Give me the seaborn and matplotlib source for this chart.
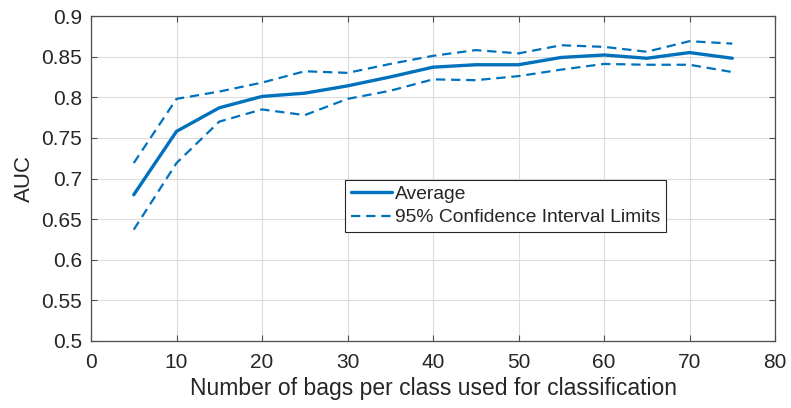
import matplotlib
matplotlib.use("Agg")
import matplotlib.pyplot as plt
import seaborn as sns
import pandas as pd

bags = [5, 10, 15, 20, 25, 30, 35, 40, 45, 50, 55, 60, 65, 70, 75]
avg_auc = [0.680, 0.758, 0.787, 0.801, 0.805, 0.814, 0.825, 0.837, 0.840, 0.840, 0.849, 0.852, 0.848, 0.855, 0.848]
upper_ci = [0.719, 0.798, 0.807, 0.818, 0.832, 0.830, 0.841, 0.851, 0.858, 0.854, 0.864, 0.862, 0.856, 0.869, 0.866]
lower_ci = [0.637, 0.719, 0.770, 0.785, 0.778, 0.798, 0.808, 0.822, 0.821, 0.826, 0.834, 0.841, 0.840, 0.840, 0.831]

x_ticks = [0, 10, 20, 30, 40, 50, 60, 70, 80]
y_ticks = [0.5, 0.55, 0.6, 0.65, 0.7, 0.75, 0.8, 0.85, 0.9]
y_ticklabels = ["0.5", "0.55", "0.6", "0.65", "0.7", "0.75", "0.8", "0.85", "0.9"]

sns.set_theme(style="white")
plt.rcParams["font.family"] = ["Liberation Sans", "DejaVu Sans"]

color = "#0072BD"
text_c = "#262626"

fig = plt.figure(figsize=(7.91, 4.08), dpi=100)
ax = fig.add_axes([91 / 791, 1 - 341 / 408, (775 - 91) / 791, (341 - 16) / 408])

df_avg = pd.DataFrame({"x": bags, "y": avg_auc})
df_up = pd.DataFrame({"x": bags, "y": upper_ci})
df_lo = pd.DataFrame({"x": bags, "y": lower_ci})

dash = (0, (4.2, 2.6))
sns.lineplot(data=df_avg, x="x", y="y", ax=ax, color=color, linewidth=2.4, label="Average")
sns.lineplot(data=df_up, x="x", y="y", ax=ax, color=color, linewidth=1.6, linestyle=dash,
             label="95% Confidence Interval Limits")
sns.lineplot(data=df_lo, x="x", y="y", ax=ax, color=color, linewidth=1.6, linestyle=dash,
             label="_nolegend_")

ax.set_xlim(0, 80)
ax.set_ylim(0.5, 0.9)
ax.set_xticks(x_ticks)
ax.set_xticklabels([str(t) for t in x_ticks])
ax.set_yticks(y_ticks)
ax.set_yticklabels(y_ticklabels)

ax.grid(True, color="#dcdcdc", linewidth=0.8)
ax.set_axisbelow(True)
for s in ax.spines.values():
    s.set_color("#4d4d4d")
    s.set_linewidth(0.9)
ax.tick_params(axis="both", which="both", direction="in", length=4, width=0.8,
               colors="#4d4d4d", labelcolor=text_c, labelsize=15,
               top=True, right=True, bottom=True, left=True)
ax.tick_params(axis="x", pad=9)
ax.tick_params(axis="y", pad=6.5)

ax.set_xlabel("Number of bags per class used for classification", fontsize=16.5, color=text_c, labelpad=3.5)
ax.set_ylabel("AUC", fontsize=16, color=text_c, labelpad=4.5)

leg = ax.legend(loc="lower left", bbox_to_anchor=(0.371, 0.335), borderaxespad=0,
                fontsize=13.9, frameon=True, fancybox=False, handlelength=2.15,
                handletextpad=0.15, borderpad=0.3, labelspacing=0.3)
leg.get_frame().set_edgecolor("#262626")
leg.get_frame().set_linewidth(0.8)
leg.get_frame().set_facecolor("white")
leg.get_frame().set_alpha(1)
for t in leg.get_texts():
    t.set_color(text_c)

fig.savefig("out.png", dpi=100)
